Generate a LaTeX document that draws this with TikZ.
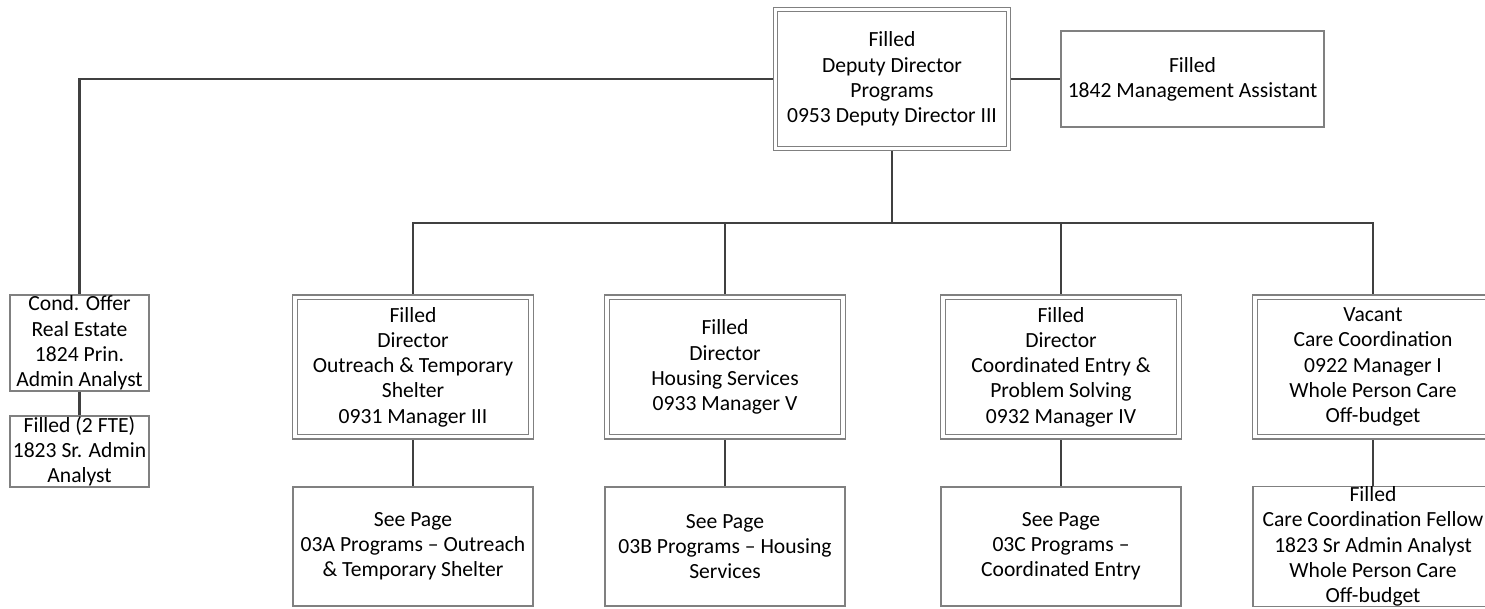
\documentclass[tikz,border=0pt]{standalone}
\usepackage{fontspec}
\setmainfont{Carlito}
\usetikzlibrary{backgrounds}
\definecolor{boxgray}{RGB}{128,128,128}
\definecolor{linegray}{RGB}{64,64,64}
\begin{document}
\begin{tikzpicture}[x=0.5pt,y=-0.5pt,
  box/.style={draw=boxgray,line width=0.6pt,fill=white,align=center,inner sep=0pt,font=\fontsize{10.8}{12.6}\selectfont},
  dbox/.style={box,double=white,double distance=1.6pt},
  dirbox/.style={dbox,minimum width=118pt,minimum height=69.75pt},
  seebox/.style={box,minimum width=120pt,minimum height=59.5pt},
  conn/.style={draw=linegray,line width=1.3pt}]
\useasboundingbox (0,0) rectangle (1485,609);
\clip (0,0) rectangle (1485,609);
\node[dbox,minimum width=116.5pt,minimum height=69.5pt] (top) at (892,79) {Filled\\Deputy Director\\Programs\\0953 Deputy Director III};
\node[box,minimum width=131.5pt,minimum height=48pt] (mgmt) at (1192.5,79) {Filled\\1842 Management Assistant};
\node[box,minimum width=69.5pt,minimum height=48pt] (cond) at (79.5,343) {Cond. Offer\\Real Estate\\1824 Prin.\\Admin Analyst};
\node[box,minimum width=69.5pt,minimum height=35.5pt] (fte) at (79.5,451.5) {Filled (2 FTE)\\1823 Sr. Admin\\Analyst};
\node[dirbox] (dir1) at (413,367) {Filled\\Director\\Outreach \& Temporary\\Shelter\\0931 Manager III};
\node[dirbox] (dir2) at (725,367) {Filled\\Director\\Housing Services\\0933 Manager V};
\node[dirbox] (dir3) at (1061,367) {Filled\\Director\\Coordinated Entry \&\\Problem Solving\\0932 Manager IV};
\node[dirbox] (dir4) at (1373,367) {Vacant\\Care Coordination\\0922 Manager I\\Whole Person Care\\Off-budget};
\node[seebox] (see1) at (413,546.5) {See Page\\03A Programs -- Outreach\\\& Temporary Shelter};
\node[seebox] (see2) at (725,546.5) {See Page\\03B Programs -- Housing\\Services};
\node[seebox] (see3) at (1061,546.5) {See Page\\03C Programs --\\Coordinated Entry};
\node[seebox] (care2) at (1373,546.5) {Filled\\Care Coordination Fellow\\1823 Sr Admin Analyst\\Whole Person Care\\Off-budget};
\coordinate (j) at (892,223);
\begin{scope}[on background layer]
\draw[conn] (cond.north) |- (top.west);
\draw[conn] (top.east) -- (mgmt.west);
\draw[conn] (cond.south) -- (fte.north);
\draw[conn] (top.south) -- (j);
\draw[conn] (dir1.north) |- (j);
\draw[conn] (dir4.north) |- (j);
\draw[conn] (dir2.north) -- (dir2.north |- j);
\draw[conn] (dir3.north) -- (dir3.north |- j);
\draw[conn] (dir1.south) -- (see1.north);
\draw[conn] (dir2.south) -- (see2.north);
\draw[conn] (dir3.south) -- (see3.north);
\draw[conn] (dir4.south) -- (care2.north);
\end{scope}
\end{tikzpicture}
\end{document}
